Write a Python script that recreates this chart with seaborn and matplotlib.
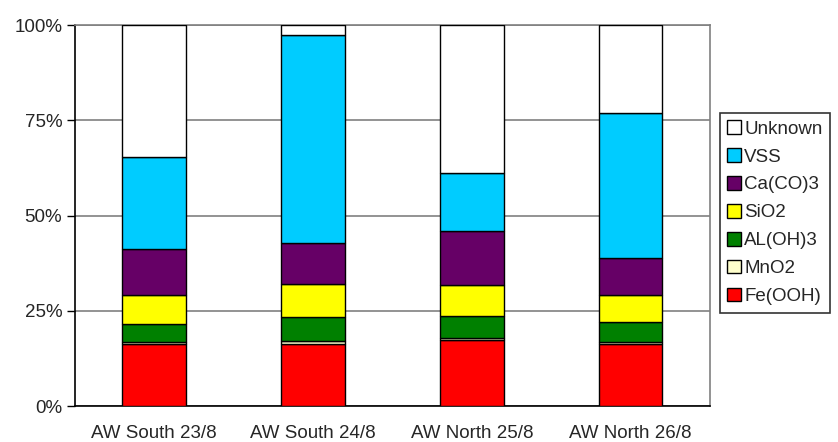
import numpy as np
import pandas as pd
import matplotlib
matplotlib.use("Agg")
import matplotlib.pyplot as plt
import seaborn as sns
from matplotlib.patches import Patch

# Datos (% de cada componente)
muestras = ["AW South 23/8", "AW South 24/8", "AW North 25/8", "AW North 26/8"]
fe_ooh = [16.3, 16.3, 17.3, 16.2]
mno2 = [0.6, 0.8, 0.6, 0.7]
al_oh3 = [4.7, 6.2, 5.6, 5.1]
sio2 = [7.5, 8.7, 8.3, 7.1]
ca_co3 = [12.2, 10.7, 14.1, 9.7]
vss = [24.1, 54.7, 15.3, 38.2]
unknown = [34.6, 2.6, 38.8, 23.0]

componentes = ["Fe(OOH)", "MnO2", "AL(OH)3", "SiO2", "Ca(CO)3", "VSS", "Unknown"]
colores = ["#FF0000", "#FFFFCC", "#008000", "#FFFF00", "#660066", "#00CCFF", "#FFFFFF"]

df = pd.DataFrame({
    "Muestra": muestras,
    "Fe(OOH)": fe_ooh,
    "MnO2": mno2,
    "AL(OH)3": al_oh3,
    "SiO2": sio2,
    "Ca(CO)3": ca_co3,
    "VSS": vss,
    "Unknown": unknown,
})

sns.set_style("white")
plt.rcParams["font.family"] = ["Liberation Sans", "DejaVu Sans"]

fig = plt.figure(figsize=(8.38, 4.42), dpi=100)
ax = fig.add_axes([0.0891, 0.0814, 0.7582, 0.862])

# barras apiladas
base = np.zeros(len(muestras))
for comp, col in zip(componentes, colores):
    sns.barplot(data=df, x="Muestra", y=comp, color=col, width=0.4,
                bottom=base, edgecolor="black", linewidth=1.0, ax=ax,
                saturation=1, zorder=3)
    base = base + df[comp].values

ax.set_ylim(0, 100)
ax.set_xlim(-0.5, 3.5)
ax.set_yticks([0, 25, 50, 75, 100])
ax.set_yticklabels(["0%", "25%", "50%", "75%", "100%"], fontsize=13.5)
ax.yaxis.grid(True, color="#808080", linewidth=1.2, zorder=0)
ax.set_axisbelow(True)

# ticks del eje x en los limites de categoria
ax.set_xticks([-0.5, 0.5, 1.5, 2.5, 3.5])
ax.set_xticklabels([])
ax.set_xticks([0, 1, 2, 3], minor=True)
ax.set_xticklabels(muestras, minor=True, fontsize=13.5)
ax.tick_params(axis="x", which="minor", length=0, pad=14)
ax.tick_params(axis="x", which="major", length=6, width=1, color="black", direction="out")
ax.tick_params(axis="y", length=6, width=1, color="black", direction="out", left=True, pad=3)
ax.set_xlabel("")
ax.set_ylabel("")

for s in ["left", "bottom"]:
    ax.spines[s].set_color("black")
    ax.spines[s].set_linewidth(1.2)
for s in ["top", "right"]:
    ax.spines[s].set_visible(True)
    ax.spines[s].set_color("#808080")
    ax.spines[s].set_linewidth(1.2)

# leyenda (orden invertido)
handles = [Patch(facecolor=c, edgecolor="black", label=n) for n, c in zip(componentes, colores)]
leg = fig.legend(handles=handles[::-1], loc="upper left", bbox_to_anchor=(0.859, 0.745),
                 fontsize=13.5, frameon=True, fancybox=False, edgecolor="black",
                 handlelength=0.75, handleheight=0.75, handletextpad=0.15,
                 labelspacing=0.56, borderpad=0.4, borderaxespad=0)
leg.get_frame().set_linewidth(1.2)

plt.savefig("out.png", dpi=100)
plt.close()
